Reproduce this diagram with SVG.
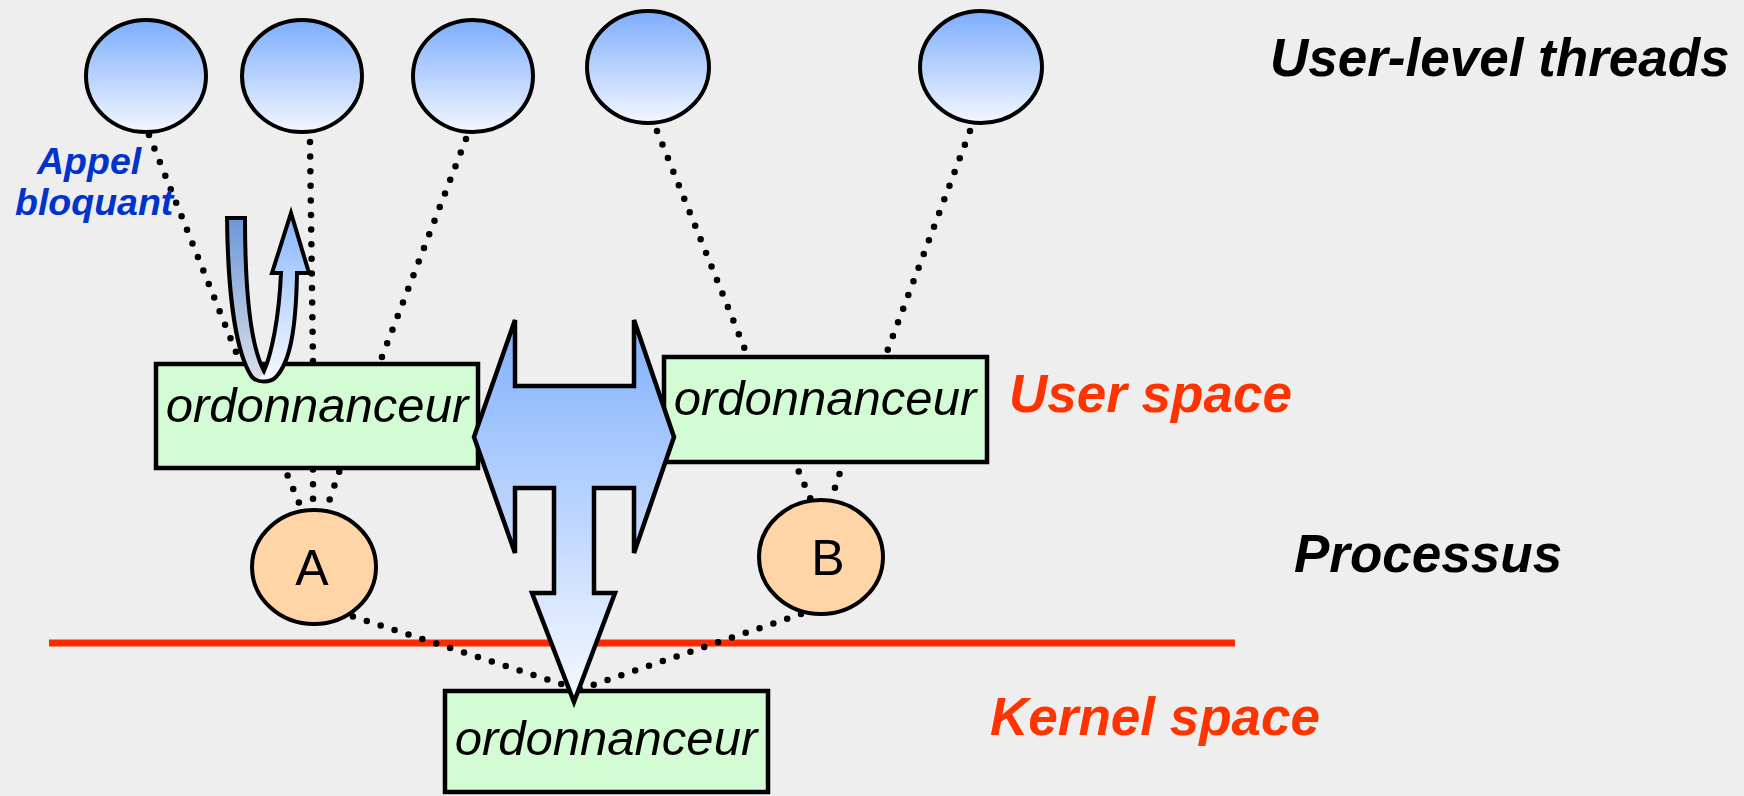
<svg xmlns="http://www.w3.org/2000/svg" width="1744" height="796" viewBox="0 0 1744 796">
  <style>
    .thread { fill: url(#threadFill); stroke: #000; stroke-width: 4; }
    .sched { fill: #d4fcd4; stroke: #000; stroke-width: 4.5; }
    .proc { fill: #ffd5a8; stroke: #000; stroke-width: 4; }
    .dots { fill: none; stroke: #000; stroke-width: 6.5; stroke-linecap: round; stroke-dasharray: 0 14.6; }
    .sched-label { font-family: "Liberation Sans", Arial, sans-serif; font-style: italic; font-size: 49px; fill: #000; text-anchor: middle; }
    .proc-label { font-family: "Liberation Sans", Arial, sans-serif; font-size: 50px; fill: #000; text-anchor: middle; }
    .title { font-family: "Liberation Sans", Arial, sans-serif; font-style: italic; font-weight: bold; font-size: 53px; }
    .note { font-family: "Liberation Sans", Arial, sans-serif; font-style: italic; font-weight: bold; font-size: 37.5px; fill: #0033cc; }
  </style>
  <defs>
    <linearGradient id="threadFill" x1="0" y1="0" x2="0" y2="1">
      <stop offset="0" stop-color="#7dadfd"/>
      <stop offset="1" stop-color="#f3f7ff"/>
    </linearGradient>
    <linearGradient id="switchFill" gradientUnits="userSpaceOnUse" x1="0" y1="320" x2="0" y2="702">
      <stop offset="0" stop-color="#80b0fc"/>
      <stop offset="1" stop-color="#f6f9ff"/>
    </linearGradient>
    <linearGradient id="returnFill" gradientUnits="userSpaceOnUse" x1="0" y1="214" x2="0" y2="380">
      <stop offset="0" stop-color="#86b6ff"/>
      <stop offset="1" stop-color="#f7faff"/>
    </linearGradient>
    <linearGradient id="callFill" gradientUnits="userSpaceOnUse" x1="0" y1="218" x2="0" y2="380">
      <stop offset="0" stop-color="#6b97da"/>
      <stop offset="1" stop-color="#dcdfe6"/>
    </linearGradient>
  </defs>

  <rect x="0" y="0" width="1744" height="796" fill="#eeeeee"/>

  <!-- user / kernel boundary -->
  <line x1="49" y1="643" x2="1235" y2="643" stroke="#ff2a00" stroke-width="7"/>

  <!-- dotted links between threads, schedulers and processes -->
  <g id="connectors">
    <line class="dots" x1="149" y1="135" x2="240" y2="362"/>
    <line class="dots" x1="310" y1="142" x2="313" y2="362"/>
    <line class="dots" x1="466" y1="139" x2="380" y2="362"/>
    <line class="dots" x1="657" y1="131" x2="748" y2="357"/>
    <line class="dots" x1="970" y1="131" x2="885" y2="357"/>
    <line class="dots" x1="282" y1="462" x2="302" y2="510"/>
    <line class="dots" x1="313" y1="455" x2="313" y2="510"/>
    <line class="dots" x1="344" y1="458" x2="326" y2="510"/>
    <line class="dots" x1="793" y1="458" x2="811" y2="500"/>
    <line class="dots" x1="844" y1="460" x2="831" y2="500"/>
    <line class="dots" x1="339" y1="612" x2="574" y2="688"/>
    <line class="dots" x1="801" y1="614" x2="578" y2="690"/>
  </g>

  <!-- user-level threads -->
  <g id="thread-1"><ellipse class="thread" cx="146" cy="76" rx="60" ry="56"/></g>
  <g id="thread-2"><ellipse class="thread" cx="302" cy="76" rx="60" ry="56"/></g>
  <g id="thread-3"><ellipse class="thread" cx="473" cy="76" rx="60" ry="56"/></g>
  <g id="thread-4"><ellipse class="thread" cx="648" cy="67" rx="61" ry="56"/></g>
  <g id="thread-5"><ellipse class="thread" cx="981" cy="67" rx="61" ry="56"/></g>

  <!-- schedulers -->
  <g id="sched-user-a">
    <rect class="sched" x="156" y="364" width="322" height="104"/>
    <text class="sched-label" x="317" y="422">ordonnanceur</text>
  </g>
  <g id="sched-user-b">
    <rect class="sched" x="664" y="357" width="323" height="105"/>
    <text class="sched-label" x="825" y="415">ordonnanceur</text>
  </g>
  <g id="sched-kernel">
    <rect class="sched" x="445" y="691" width="323" height="101"/>
    <text class="sched-label" x="606" y="755">ordonnanceur</text>
  </g>

  <!-- processes -->
  <g id="proc-a">
    <ellipse class="proc" cx="314" cy="567" rx="62" ry="57"/>
    <text class="proc-label" x="312" y="585">A</text>
  </g>
  <g id="proc-b">
    <ellipse class="proc" cx="821" cy="557" rx="62" ry="57"/>
    <text class="proc-label" x="828" y="575">B</text>
  </g>

  <!-- scheduler switch arrow: left/right and down to kernel -->
  <g id="arrow-switch">
    <path d="M474,437 L515,320 L515,386 L634,386 L634,320 L674,437 L634,553 L634,488 L594,488 L594,593 L615,593 L574,702 L532,593 L554,593 L554,488 L515,488 L515,553 Z"
          fill="url(#switchFill)" stroke="#000" stroke-width="4.5" stroke-linejoin="miter"/>
  </g>

  <!-- blocking call and return arrow -->
  <g id="arrow-call">
    <path d="M227,218 H245 C245,290 250,345 264,371 C271,355 279,320 281,273 H272 L291,213 L309,273 H297 C296,330 290,362 276,377 C270,383 258,383 252,377 C237,355 228,300 227,218 Z"
          fill="url(#returnFill)"/>
    <path d="M227,218 H245 C245,290 250,345 264,371 C262,378 258,380 252,377 C237,355 228,300 227,218 Z"
          fill="url(#callFill)"/>
    <path d="M227,218 H245 C245,290 250,345 264,371 C271,355 279,320 281,273 H272 L291,213 L309,273 H297 C296,330 290,362 276,377 C270,383 258,383 252,377 C237,355 228,300 227,218 Z"
          fill="none" stroke="#000" stroke-width="4" stroke-linejoin="miter"/>
  </g>

  <!-- labels -->
  <g id="labels">
    <text class="note" x="37" y="174">Appel</text>
    <text class="note" x="15" y="215">bloquant</text>
    <text class="title" x="1270" y="76" fill="#000">User-level threads</text>
    <text class="title" x="1009" y="412" fill="#ff3300">User space</text>
    <text class="title" x="1294" y="572" fill="#000">Processus</text>
    <text class="title" x="990" y="735" fill="#ff3300">Kernel space</text>
  </g>
</svg>
